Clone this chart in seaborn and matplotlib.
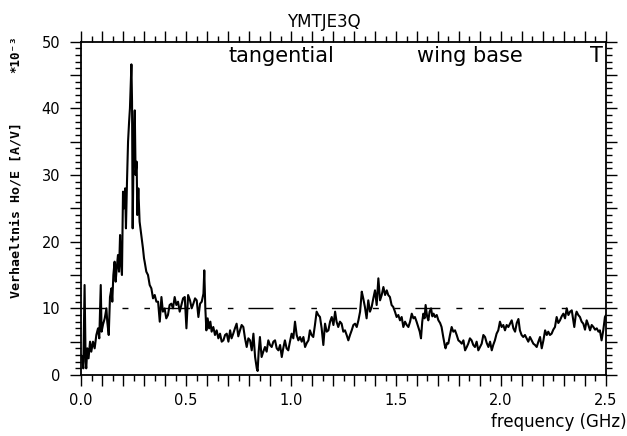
import numpy as np
import matplotlib
matplotlib.use("Agg")
import matplotlib.pyplot as plt
import seaborn as sns
from matplotlib.ticker import MultipleLocator, FuncFormatter

# ----------------------------------------------------------------------
# DATA (values in units of 1e-3 A/V)
# ----------------------------------------------------------------------
freq_ghz = [
    0.000, 0.005, 0.011, 0.017, 0.022, 0.025, 0.030, 0.036, 0.043, 0.049,
    0.057, 0.065, 0.073, 0.081, 0.087, 0.094, 0.098, 0.105, 0.113, 0.121,
    0.125, 0.132, 0.138, 0.145, 0.149, 0.154, 0.160, 0.165, 0.170, 0.176,
    0.181, 0.186, 0.190, 0.195, 0.200, 0.205, 0.210, 0.214, 0.219, 0.224,
    0.229, 0.233, 0.240, 0.243, 0.246, 0.251, 0.256, 0.260, 0.265, 0.268,
    0.273, 0.279, 0.287, 0.295, 0.300, 0.303, 0.311, 0.319, 0.327, 0.335,
    0.343, 0.351, 0.359, 0.367, 0.375, 0.383, 0.390, 0.398, 0.406, 0.414,
    0.422, 0.430, 0.438, 0.446, 0.454, 0.462, 0.470, 0.478, 0.486, 0.494,
    0.502, 0.510, 0.519, 0.527, 0.535, 0.543, 0.551, 0.559, 0.567, 0.575,
    0.583, 0.587, 0.592, 0.597, 0.603, 0.610, 0.616, 0.622, 0.630, 0.638,
    0.646, 0.654, 0.662, 0.670, 0.678, 0.686, 0.694, 0.702, 0.710, 0.717,
    0.725, 0.733, 0.741, 0.749, 0.757, 0.765, 0.773, 0.781, 0.789, 0.797,
    0.805, 0.813, 0.821, 0.829, 0.837, 0.841, 0.846, 0.852, 0.860, 0.868,
    0.876, 0.884, 0.892, 0.900, 0.908, 0.916, 0.924, 0.932, 0.940, 0.948,
    0.956, 0.963, 0.971, 0.979, 0.987, 0.995, 1.003, 1.011, 1.019, 1.027,
    1.035, 1.043, 1.051, 1.059, 1.067, 1.075, 1.083, 1.090, 1.098, 1.106,
    1.114, 1.122, 1.130, 1.138, 1.146, 1.154, 1.162, 1.170, 1.178, 1.186,
    1.194, 1.202, 1.210, 1.217, 1.225, 1.233, 1.241, 1.249, 1.257, 1.265,
    1.273, 1.281, 1.289, 1.297, 1.305, 1.313, 1.321, 1.329, 1.337, 1.344,
    1.352, 1.360, 1.368, 1.376, 1.384, 1.392, 1.400, 1.408, 1.416, 1.424,
    1.432, 1.440, 1.448, 1.456, 1.463, 1.471, 1.479, 1.487, 1.495, 1.503,
    1.511, 1.519, 1.527, 1.535, 1.543, 1.551, 1.559, 1.567, 1.575, 1.583,
    1.590, 1.598, 1.606, 1.613, 1.619, 1.625, 1.630, 1.636, 1.641, 1.648,
    1.654, 1.660, 1.667, 1.673, 1.679, 1.686, 1.694, 1.702, 1.710, 1.717,
    1.725, 1.732, 1.736, 1.743, 1.749, 1.757, 1.765, 1.773, 1.781, 1.789,
    1.797, 1.805, 1.813, 1.821, 1.829, 1.837, 1.844, 1.852, 1.860, 1.868,
    1.876, 1.884, 1.892, 1.900, 1.908, 1.916, 1.924, 1.932, 1.940, 1.948,
    1.956, 1.963, 1.971, 1.979, 1.987, 1.995, 2.003, 2.011, 2.019, 2.027,
    2.035, 2.043, 2.051, 2.059, 2.067, 2.075, 2.083, 2.090, 2.098, 2.106,
    2.114, 2.122, 2.130, 2.138, 2.146, 2.154, 2.162, 2.170, 2.178, 2.186,
    2.194, 2.202, 2.210, 2.218, 2.225, 2.233, 2.241, 2.249, 2.257, 2.265,
    2.273, 2.281, 2.289, 2.297, 2.305, 2.313, 2.321, 2.329, 2.337, 2.343,
    2.349, 2.356, 2.360, 2.368, 2.376, 2.384, 2.392, 2.400, 2.408, 2.416,
    2.424, 2.432, 2.440, 2.448, 2.456, 2.464, 2.471, 2.479, 2.487, 2.495,
    2.500,
]
ratio = [
    3.0, 2.7, 1.0, 13.5, 2.0, 1.0, 4.0, 2.5, 5.0, 3.5,
    5.0, 4.0, 6.0, 7.0, 5.5, 13.5, 6.5, 7.6, 8.5, 10.0,
    8.0, 6.0, 11.7, 13.0, 11.0, 15.0, 17.0, 14.0, 16.0, 18.0,
    15.5, 21.0, 17.0, 15.0, 27.5, 25.0, 28.0, 22.0, 29.0, 35.0,
    38.0, 40.0, 46.6, 41.0, 22.0, 35.0, 39.7, 30.0, 32.0, 24.0,
    28.0, 23.0, 21.0, 19.0, 17.5, 17.0, 15.5, 15.0, 13.5, 13.0,
    11.5, 12.0, 11.0, 11.0, 8.0, 11.7, 9.5, 10.0, 8.5, 9.0,
    10.5, 10.7, 10.0, 11.7, 10.5, 11.0, 9.5, 10.5, 11.5, 11.7,
    7.0, 12.0, 11.2, 10.0, 10.7, 11.5, 11.2, 8.7, 10.7, 11.0,
    12.2, 15.7, 10.0, 6.7, 8.5, 7.0, 8.0, 6.5, 7.2, 6.0,
    6.7, 5.5, 6.2, 5.0, 5.2, 6.0, 6.2, 5.0, 6.7, 5.5,
    6.2, 7.0, 7.7, 5.8, 6.7, 7.5, 7.2, 5.5, 4.2, 5.5,
    5.2, 3.7, 6.2, 2.7, 1.0, 0.6, 3.5, 5.7, 2.7, 3.5,
    4.2, 3.5, 5.2, 4.5, 4.2, 5.0, 5.2, 4.0, 3.7, 4.5,
    2.7, 4.0, 5.2, 4.0, 3.7, 5.0, 6.2, 5.5, 8.0, 6.0,
    5.2, 5.7, 5.0, 5.7, 4.2, 4.8, 5.2, 6.7, 6.0, 5.7,
    7.5, 9.5, 9.0, 8.7, 7.0, 4.5, 7.7, 6.5, 6.7, 8.0,
    8.7, 7.5, 9.5, 8.0, 7.2, 8.0, 7.7, 6.5, 6.7, 6.0,
    5.2, 6.0, 6.7, 7.5, 7.7, 7.2, 8.2, 9.5, 12.5, 11.5,
    10.2, 8.5, 11.2, 9.5, 10.2, 11.5, 12.7, 10.5, 14.5, 11.2,
    12.0, 13.2, 12.0, 12.7, 12.0, 11.7, 10.5, 10.2, 9.5, 8.7,
    9.0, 8.2, 8.7, 7.2, 8.0, 7.5, 7.2, 8.0, 9.2, 8.5,
    8.7, 8.0, 7.2, 6.5, 5.5, 8.0, 9.2, 8.5, 10.5, 8.8,
    8.2, 9.5, 10.0, 8.8, 9.2, 8.7, 9.0, 8.2, 7.8, 7.2,
    5.7, 4.5, 4.0, 4.8, 4.7, 6.0, 7.2, 6.5, 6.7, 6.0,
    5.2, 5.0, 4.7, 5.2, 3.7, 4.2, 4.7, 5.5, 5.2, 4.5,
    4.2, 5.0, 3.7, 4.2, 4.7, 6.0, 5.7, 4.8, 4.2, 5.0,
    3.7, 4.5, 5.2, 6.2, 6.7, 8.0, 7.2, 7.5, 6.7, 7.5,
    7.2, 7.7, 8.2, 7.0, 6.5, 7.8, 8.4, 6.7, 6.0, 5.7,
    6.0, 5.5, 5.0, 5.7, 5.2, 4.7, 4.5, 4.2, 5.0, 5.7,
    4.0, 5.2, 6.7, 6.0, 6.5, 6.0, 6.2, 6.8, 7.2, 8.7,
    7.8, 8.2, 8.8, 9.2, 8.5, 10.0, 9.0, 9.5, 9.7, 8.5,
    7.2, 9.0, 9.5, 9.0, 8.7, 8.0, 7.7, 6.8, 8.2, 7.5,
    6.7, 7.5, 7.2, 6.8, 7.0, 6.5, 6.7, 5.2, 6.7, 8.7,
    9.0,
]
threshold = 10.0

xtick_labels = ["0.0", "0.5", "1.0", "1.5", "2.0", "2.5"]
ytick_labels = ["0", "10", "20", "30", "40", "50"]

title = "YMTJE3Q"
notes = [("tangential", 0.70), ("wing base", 1.60), ("T", 2.424)]

# ----------------------------------------------------------------------
# PLOT
# ----------------------------------------------------------------------
sns.set_style("ticks")
plt.rcParams["font.family"] = ["DejaVu Sans"]
plt.rcParams["text.color"] = "black"
plt.rcParams["axes.labelcolor"] = "black"
plt.rcParams["xtick.color"] = "black"
plt.rcParams["ytick.color"] = "black"

fig = plt.figure(figsize=(6.27, 4.36), dpi=100)
ax = fig.add_axes([0.1292, 0.1399, 0.8373, 0.7645])

sns.lineplot(x=freq_ghz, y=ratio, ax=ax, color="black", linewidth=1.5,
             sort=False, estimator=None)
ax.axhline(threshold, color="black", linewidth=1.0,
           dashes=(18, 11.5, 4.3, 11.5, 4.0, 10.8))

ax.set_xlim(0, 2.5)
ax.set_ylim(0, 50)

# ticks: long every 0.1 / 5, short every 0.05 / 1, labels on round values only
ax.xaxis.set_major_locator(MultipleLocator(0.1))
ax.xaxis.set_minor_locator(MultipleLocator(0.05))
ax.yaxis.set_major_locator(MultipleLocator(5))
ax.yaxis.set_minor_locator(MultipleLocator(1))


def x_fmt(v, pos):
    lab = f"{v:.1f}"
    return lab if lab in xtick_labels else ""


def y_fmt(v, pos):
    lab = f"{v:.0f}"
    return lab if (lab in ytick_labels and abs(v - round(v)) < 1e-6) else ""


ax.xaxis.set_major_formatter(FuncFormatter(x_fmt))
ax.yaxis.set_major_formatter(FuncFormatter(y_fmt))

ax.tick_params(axis="both", which="both", direction="out", color="black",
               labelcolor="black", width=1.0, top=True, right=True)
ax.tick_params(axis="both", which="major", length=8.0, labelsize=10.5, pad=5)
ax.tick_params(axis="both", which="minor", length=4.0)
ax.tick_params(axis="y", which="major", pad=7)

for side in ["left", "right", "top", "bottom"]:
    ax.spines[side].set_visible(True)
    ax.spines[side].set_color("black")
    ax.spines[side].set_linewidth(1.3)

for text, xpos in notes:
    ax.text(xpos, 46.9, text, fontsize=15, va="baseline", ha="left",
            color="black")

fig.text(0.516, 0.938, title, fontsize=12, ha="center", va="baseline")
fig.text(1.0, 0.02, "frequency (GHz)", fontsize=12, ha="right", va="baseline")
fig.text(0.0255, 0.518, "Verhaeltnis Ho/E [A/V]", rotation=90, ha="center",
         va="center", fontsize=9.5, fontweight="bold", family="DejaVu Sans Mono")
fig.text(0.0255, 0.875, "*10⁻³", rotation=90, ha="center", va="center",
         fontsize=9, fontweight="bold", family="DejaVu Sans Mono")

plt.savefig("out.png", dpi=100)
plt.close()
